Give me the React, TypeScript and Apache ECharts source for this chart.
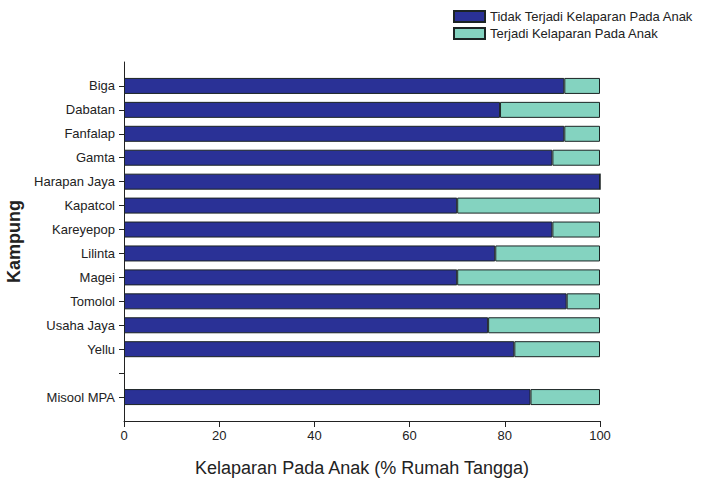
import React, { useEffect, useRef } from "react";
import * as echarts from "echarts";

const categories = [
  "Biga", "Dabatan", "Fanfalap", "Gamta", "Harapan Jaya", "Kapatcol",
  "Kareyepop", "Lilinta", "Magei", "Tomolol", "Usaha Jaya", "Yellu", "", "Misool MPA",
];
const tidakKelaparan = [92.5, 79, 92.5, 90, 100, 70, 90, 78, 70, 93, 76.5, 82, null, 85.4];
const terjadiKelaparan = [7.5, 21, 7.5, 10, 0, 30, 10, 22, 30, 7, 23.5, 18, null, 14.6];
const xTicks = [0, 20, 40, 60, 80, 100];
const seriesNames = ["Tidak Terjadi Kelaparan Pada Anak", "Terjadi Kelaparan Pada Anak"];
const xTitle = "Kelaparan Pada Anak (% Rumah Tangga)";
const yTitle = "Kampung";

const FONT = "'Liberation Sans', Arial, sans-serif";

export default function App() {
  const ref = useRef<HTMLDivElement>(null);
  useEffect(() => {
    if (!ref.current) return;
    const chart = echarts.init(ref.current, null, { renderer: "svg" });
    // pad half a step at each end of the category axis
    const axisCats = [" ", ...categories, "  "];
    const pad = (arr: (number | null)[]) => ["-", ...arr.map((v) => (v === null ? "-" : v)), "-"];
    const lastIdx = axisCats.length - 1;
    chart.setOption({
      animation: false,
      backgroundColor: "#ffffff",
      textStyle: { fontFamily: FONT },
      legend: {
        orient: "vertical",
        left: 448,
        top: 5,
        icon: "rect",
        itemWidth: 31,
        itemHeight: 11,
        itemGap: 4,
        textStyle: { fontSize: 13, color: "#222", fontFamily: FONT },
        data: seriesNames,
      },
      grid: {
        left: 124,
        right: 101,
        top: 62,
        bottom: 62,
        containLabel: false,
        outerBoundsMode: "none",
      },
      xAxis: {
        type: "value",
        min: xTicks[0],
        max: xTicks[xTicks.length - 1],
        interval: xTicks[1] - xTicks[0],
        splitLine: { show: false },
        axisLine: { show: true, lineStyle: { color: "#222", width: 1 } },
        axisTick: { show: true, length: 6, lineStyle: { color: "#222" } },
        axisLabel: { fontSize: 13, color: "#222", margin: 8, fontFamily: FONT },
        name: xTitle,
        nameLocation: "middle",
        nameGap: 38,
        nameTextStyle: { fontSize: 18, color: "#222", fontFamily: FONT },
      },
      yAxis: {
        type: "category",
        inverse: true,
        boundaryGap: false,
        data: axisCats,
        axisLine: { show: true, lineStyle: { color: "#222", width: 1 } },
        axisTick: {
          show: true,
          length: 5,
          lineStyle: { color: "#222" },
          interval: (i: number) => i !== 0 && i !== lastIdx,
        },
        axisLabel: { fontSize: 13, color: "#222", margin: 9, fontFamily: FONT, interval: 0 },
        name: yTitle,
        nameLocation: "middle",
        nameGap: 99,
        nameRotate: 90,
        nameTextStyle: { fontSize: 18, fontWeight: "bold", color: "#222", fontFamily: FONT },
      },
      series: [
        {
          name: seriesNames[0],
          type: "bar",
          stack: "total",
          barWidth: 16,
          data: pad(tidakKelaparan),
          itemStyle: { color: "#2a3196", borderColor: "#1c2424", borderWidth: 1 },
        },
        {
          name: seriesNames[1],
          type: "bar",
          stack: "total",
          barWidth: 16,
          data: pad(terjadiKelaparan),
          itemStyle: { color: "#84d3c0", borderColor: "#1c2424", borderWidth: 1 },
        },
      ],
    });
    return () => chart.dispose();
  }, []);
  return (
    <div
      ref={ref}
      style={{ position: "fixed", left: 0, top: 0, width: 701, height: 483, background: "#fff" }}
    />
  );
}
